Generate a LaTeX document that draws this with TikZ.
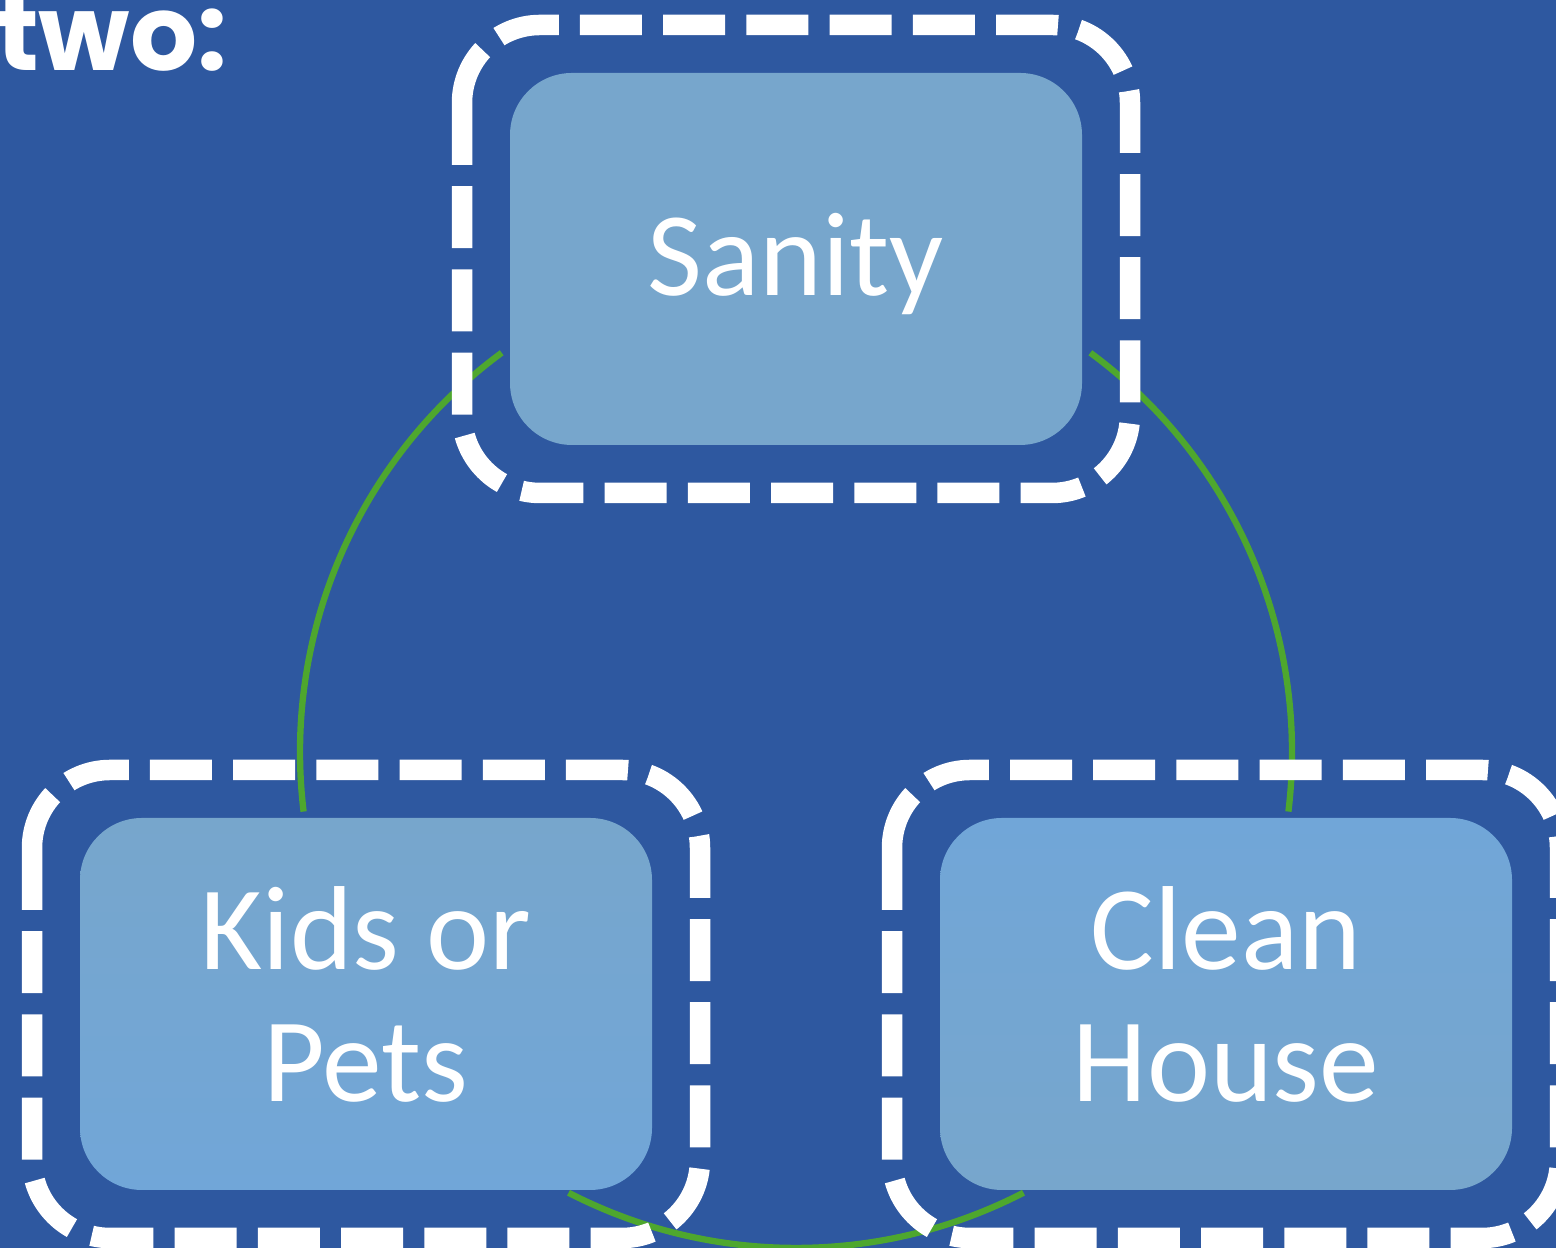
\documentclass[tikz,border=0pt]{standalone}
\usepackage{fontspec}
\setmainfont{Carlito}
\newfontfamily\headfont{Poppins}
\usetikzlibrary{fit, calc}
\definecolor{slideblue}{RGB}{46,88,160}
\definecolor{boxblue}{RGB}{119,166,204}
\definecolor{boxbluelt}{RGB}{113,166,216}
\definecolor{cyclegreen}{RGB}{78,167,46}
\tikzset{
  cyclebox/.style={rounded corners=6.2mm, minimum width=5.72cm, minimum height=3.72cm,
    inner sep=0pt, outer sep=0pt, text=white, align=center,
    font=\fontsize{34}{37.6}\selectfont},
  oneline/.style={text height=7.4mm, text depth=0mm},
  twoline/.style={text height=19.6mm, text depth=0mm},
  ring/.style={inner sep=4.8mm, outer sep=0pt},
  ringline/.style={white, line width=2.05mm, rounded corners=7.8mm,
    dash pattern=on 6.2mm off 2.12mm},
  arcline/.style={cyclegreen, line width=1.8pt}
}

\begin{document}
\begin{tikzpicture}
  \useasboundingbox (0,0) rectangle (15.56,12.48);
  \clip (0,0) rectangle (15.56,12.48);
  \fill[slideblue] (0,0) rectangle (15.56,12.48);

  \node[anchor=base east, inner sep=0pt, text=white, font=\headfont\bfseries\fontsize{30}{33}\selectfont]
    (title) at (2.28,11.77) {two:};

  % the three boxes
  \node[cyclebox, oneline, fill=boxblue] (sanity) at (7.96,9.89) {Sanity};
  \node[cyclebox, twoline, top color=boxblue, bottom color=boxbluelt] (kids) at (3.66,2.44) {Kids or\\Pets};
  \node[cyclebox, twoline, top color=boxbluelt, bottom color=boxblue] (clean) at (12.26,2.44) {Clean\\House};

  % green cycle
  \coordinate (hub) at (7.96,4.96);
  \draw[arcline] ($(hub)+(126.4:4.96)$) arc[start angle=126.4, end angle=186.9, radius=4.96];
  \draw[arcline] ($(hub)+(53.6:4.96)$) arc[start angle=53.6, end angle=-6.9, radius=4.96];
  \draw[arcline] ($(hub)+(242.7:4.96)$) arc[start angle=242.7, end angle=297.3, radius=4.96];

  % dashed rings
  \foreach \n in {sanity,kids,clean} {
    \node[ring, fit=(\n)] (\n ring) {};
    \draw[ringline] ([yshift=-7.8mm]\n ring.north west) |- (\n ring.south east)
      |- (\n ring.north west) -- ([yshift=-7.8mm]\n ring.north west);
  }
\end{tikzpicture}
\end{document}
